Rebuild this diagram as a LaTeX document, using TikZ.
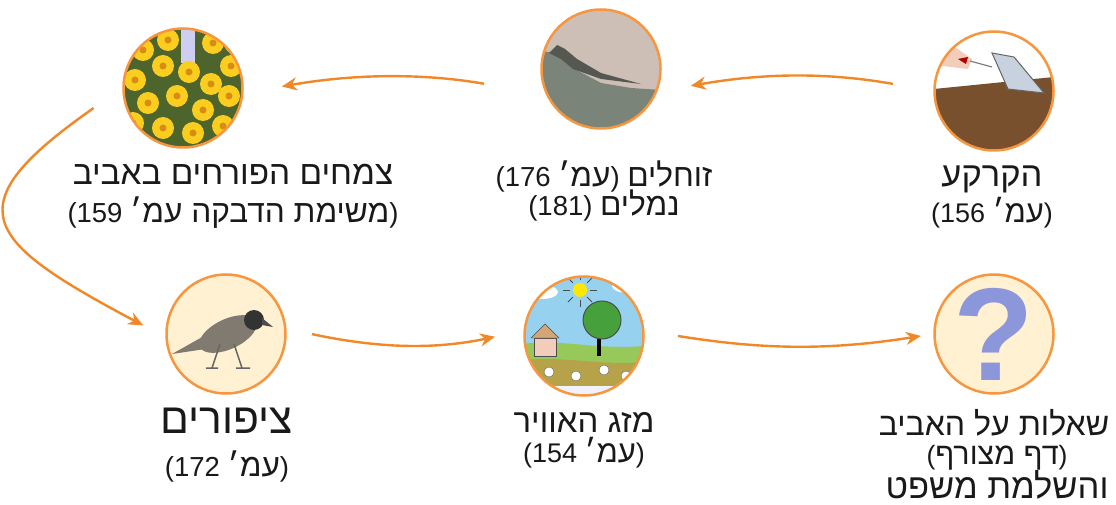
\documentclass[tikz,border=0pt]{standalone}
\usepackage{fontspec}
\setmainfont{Liberation Sans}
\newfontfamily\heb[Script=Hebrew,Scale=1.15]{Liberation Sans}
\TeXXeTstate=1
\usetikzlibrary{arrows.meta,calc}
\newcommand\hb[1]{{\heb\beginR #1\endR}}
\definecolor{circ}{RGB}{247,150,62}
\definecolor{arr}{RGB}{242,135,40}
\definecolor{cream}{RGB}{255,241,210}
\definecolor{txt}{RGB}{25,25,25}
\definecolor{flgreen}{RGB}{78,100,45}
\definecolor{flyel}{RGB}{250,205,30}
\definecolor{flctr}{RGB}{215,140,20}
\definecolor{liztop}{RGB}{205,190,182}
\definecolor{lizrock}{RGB}{122,132,120}
\definecolor{lizbody}{RGB}{85,88,80}
\definecolor{soil}{RGB}{120,80,46}
\definecolor{hand}{RGB}{242,205,188}
\definecolor{trowel}{RGB}{200,210,222}
\definecolor{birdg}{RGB}{128,122,112}
\definecolor{sky}{RGB}{150,210,240}
\definecolor{grass}{RGB}{150,200,90}
\definecolor{olive}{RGB}{182,162,72}
\definecolor{tree}{RGB}{70,160,60}
\definecolor{qblue}{RGB}{140,150,218}
\tikzset{
  bubble/.style={circle, draw=circ, line width=2.5pt, minimum size=119pt, inner sep=0pt},
  conn/.style={draw=arr, line width=2.4pt, -{Stealth[length=15pt,width=13pt]}},
  lbl/.style={anchor=base, inner sep=0pt, text=txt, font=\fontsize{#1}{#1}\selectfont}
}
\begin{document}
\begin{tikzpicture}[x=1pt,y=1pt]
\useasboundingbox (0,0) rectangle (1116,504);
\coordinate (cF) at (183,416);
\coordinate (cL) at (601,435);
\coordinate (cS) at (994,413);
\coordinate (cB) at (226,170);
\coordinate (cW) at (584,168);
\coordinate (cQ) at (994,170);

% flowers picture
\begin{scope}[shift={(cF)}]
  \clip (0,0) circle (59);
  \fill[flgreen] (-60,-60) rectangle (60,60);
  \fill[gray!45!blue!25] (-2,25) rectangle (12,60);
  \foreach \p in {(-40,38),(30,45),(48,22),(-48,8),(-20,22),(6,16),(28,4),(-35,-15),(-6,-8),(20,-22),(46,-8),(-20,-40),(10,-45),(40,-38),(-50,-35),(-15,48),(52,45)}{
    \fill[flyel] \p circle (11);
    \fill[flctr] \p circle (3.5);
  }
\end{scope}

% lizard picture
\begin{scope}[shift={(cL)}]
  \clip (0,0) circle (59);
  \fill[liztop] (-60,-60) rectangle (60,60);
  \fill[lizrock] (-60,18) -- (-46,16) -- (-30,2) -- (0,-14) -- (30,-19) -- (60,-21) -- (60,-60) -- (-60,-60) -- cycle;
  \fill[lizbody] (-52,16) -- (-44,24) -- (-36,20) -- (-24,10) -- (0,-4) -- (40,-15) -- (0,-10) -- (-28,0) -- (-40,10) -- cycle;
\end{scope}

% soil picture
\begin{scope}[shift={(cS)}]
  \clip (0,0) circle (59);
  \fill[white] (-60,-60) rectangle (60,60);
  \fill[soil] (-60,2) -- (60,14) -- (60,-60) -- (-60,-60) -- cycle;
  \fill[hand] (-60,40) -- (-42,46) -- (-22,32) -- (-26,22) -- (-60,26) -- cycle;
  \fill[red!70!black] (-36,32) -- (-26,34) -- (-28,27) -- cycle;
  \draw[gray, line width=1.2pt] (-24,30) -- (-2,24);
  \filldraw[fill=trowel, draw=gray!80!black, line width=1pt] (-2,38) -- (20,34) -- (50,-2) -- (14,2) -- cycle;
\end{scope}

% bird picture
\begin{scope}[shift={(cB)}]
  \clip (0,0) circle (59);
  \fill[cream] (-60,-60) rectangle (60,60);
  \fill[birdg] (-54,-20) -- (-22,-2) -- (-14,-14) -- cycle;
  \fill[birdg] (2,0) ellipse [x radius=31, y radius=15, rotate=25];
  \fill[black!80] (28,14) circle (10);
  \fill[black!70] (36,16) -- (47,7) -- (36,9) -- cycle;
  \draw[black!60, line width=1.5pt] (-6,-10) -- (-14,-34) (-20,-34) -- (-8,-34);
  \draw[black!60, line width=1.5pt] (8,-10) -- (16,-34) (10,-34) -- (24,-34);
\end{scope}

% weather picture
\begin{scope}[shift={(cW)}]
  \clip (0,0) circle (59);
  \fill[sky] (-60,-60) rectangle (60,60);
  \fill[white] (-42,44) ellipse [x radius=16, y radius=7];
  \fill[white] (44,50) ellipse [x radius=16, y radius=7];
  \fill[yellow!90!orange] (-4,46) circle (7);
  \foreach \a in {0,45,...,315}{\draw[black!70, line width=0.8pt] ($(-4,46)+(\a:10)$) -- ($(-4,46)+(\a:17)$);}
  \fill[grass] (-60,-8) .. controls (-30,-2) and (10,-14) .. (60,-10) -- (60,-60) -- (-60,-60) -- cycle;
  \fill[olive] (-60,-24) .. controls (-20,-20) and (20,-30) .. (60,-26) -- (60,-60) -- (-60,-60) -- cycle;
  \fill[white!95!blue] (-60,-50) rectangle (60,-60);
  \foreach \p in {(-35,-36),(-8,-40),(20,-34),(42,-40)}{\filldraw[fill=white, draw=black!60] \p circle (5);}
  \fill[black] (13,-20) rectangle (17,8);
  \filldraw[fill=tree, draw=black!70, line width=1pt] (18,16) circle (19);
  \filldraw[fill=hand, draw=black!70] (-50,-20) rectangle (-28,-2);
  \filldraw[fill=brown!70, draw=black!70] (-53,-2) -- (-39,12) -- (-25,-2) -- cycle;
\end{scope}

% question picture
\begin{scope}[shift={(cQ)}]
  \clip (0,0) circle (59);
  \fill[cream] (-60,-60) rectangle (60,60);
\end{scope}
\node[text=qblue, font=\fontsize{132}{132}\bfseries\selectfont, inner sep=0pt] (qmark) at (cQ) {?};

% circles
\node[bubble] (flowers) at (cF) {};
\node[bubble] (lizard) at (cL) {};
\node[bubble] (soil) at (cS) {};
\node[bubble] (bird) at (cB) {};
\node[bubble] (weather) at (cW) {};
\node[bubble] (question) at (cQ) {};

% labels
\node[lbl=29] (fl1) at (233,319) {\hb{צמחים הפורחים באביב}};
\node[lbl=27.5] (fl2) at (233,281) {(159 \hb{משימת הדבקה עמ׳})};
\node[lbl=27.5] (lz1) at (604,317) {(176 \hb{עמ׳}) \hb{זוחלים}};
\node[lbl=27.5] (lz2) at (604,288) {(181) \hb{נמלים}};
\node[lbl=30] (so1) at (992,317) {\hb{הקרקע}};
\node[lbl=27] (so2) at (992,281) {(156 \hb{עמ׳})};
\node[lbl=37] (bi1) at (227,71) {\hb{ציפורים}};
\node[lbl=27.5] (bi2) at (227,28) {(172 \hb{עמ׳})};
\node[lbl=28.6] (we1) at (584,72) {\hb{מזג האוויר}};
\node[lbl=27] (we2) at (584,42) {(154 \hb{עמ׳})};
\node[lbl=27.9] (qu1) at (994,68.5) {\hb{שאלות על האביב}};
\node[lbl=26.5] (qu2) at (997,40) {(\hb{דף מצורף})};
\node[lbl=30] (qu3) at (997,5.5) {\hb{והשלמת משפט}};

% connectors
\draw[conn, shorten <=41pt, shorten >=34pt] (soil.180) to[out=170,in=10] (lizard.-22);
\draw[conn, shorten <=63pt, shorten >=39pt] (lizard.205) to[out=170,in=10] (flowers.-5);
\draw[conn, shorten <=35pt, shorten >=25pt] (flowers.180) to[out=215,in=152,looseness=2.1] (bird.183);
\draw[conn, shorten <=26pt, shorten >=29pt] (bird.5) to[out=-12,in=192] (weather.175);
\draw[conn, shorten <=34pt, shorten >=12.5pt] (weather.5) to[out=-9,in=189] (question.180);
\end{tikzpicture}
\end{document}
